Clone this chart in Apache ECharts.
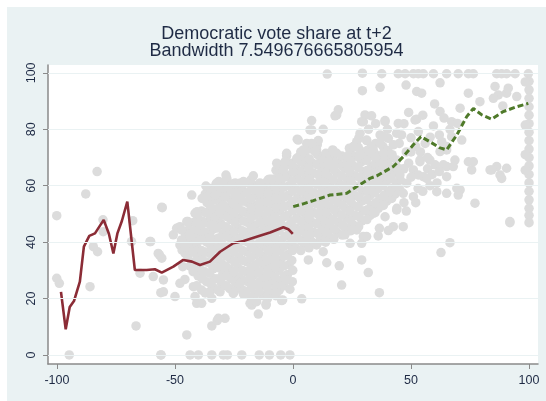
<!DOCTYPE html>
<html>
<head>
<meta charset="utf-8">
<script src="https://cdn.jsdelivr.net/npm/echarts@6/dist/echarts.min.js"></script>
<style>
  html, body { margin: 0; padding: 0; background: #fff; }
  #chart { position: absolute; left: 7px; top: 7px; width: 539px; height: 394px; }
</style>
</head>
<body>
<div id="chart"></div>
<script>
var titleLines = ['Democratic vote share at t+2', 'Bandwidth 7.549676665805954'];
var xTicks = [-100, -50, 0, 50, 100];
var yTicks = [0, 20, 40, 60, 80, 100];

// scatter: sparse points
var edgePts = [
  [-100.1,49.4],[-87.8,57.1],[-83,65],[-67.9,47.6],[-55.4,52.2],[-100.1,27.2],[-99,25.4],[-94.8,0],
  [-86,24.2],[-84.6,38.4],[-82.8,36.6],[-80.4,43.7],[-80.5,47.9],[-68.4,40.2],[-66.5,10.3],[-64.8,29],
  [-60.3,40.2],[-59.2,27.8],[-56.6,35.5],[-55.9,0],[-54.9,26.6],[-54.9,22.4],[-55.6,52.4],[-60.6,40.2],
  [-57.1,36],[-55.6,34.3],[-56,22.1],
  [-50,20.7],[-47.9,25.4],[-45,7.1],[-50.7,42.6],[-47.2,40.8],[-44.4,38.4],[-46.7,31.3],[-42.2,30.1],
  [-42.2,24.2],[-40.8,18.3],[-45.8,26.8],[-42.9,56.7],[-40.8,50.5],[-47.9,45.5],[-44.5,47.3],[-49.3,44.9],
  [-47.2,44.3],[-45,47.3],[-47.9,39],[-45.8,38.4],[-43.6,42],[-38.7,46.1],[-38.7,40.8],[-40.6,50.8],
  [-41.5,50.2],[-41.5,20.7],[-38.7,18.3],[-36.9,59.9],
  [-56,0],[-43.6,0],[-40.1,0],[-34.4,0],[-29.5,0],[-27.8,0],[-21.7,0],[-14.3,0],[-10,0],[-5.2,0],[-1.3,0],
  [-34.4,10.3],[-32.1,12.2],[-28.8,13],[-14.7,14.5],[-31.6,13],[3.7,19.9],[-1.3,23.3],[-4.4,19.5],
  [-17.5,17.7],[-11.4,17.7],[20.6,24.8],[6.5,33.7],[14.3,32.7],[19.6,31.6],[29.1,33.7],[31.9,29.2],
  [24.2,39.6],[36.6,22.1],[62.7,36.3],[66.5,39.8],[91.9,46.9],[46.7,45.5],[42.5,45.5],[40.4,44.1],
  [36.6,44.9],[36.1,42.2],[29.8,42],[29.1,39.6],[-34.4,20.1],[-30.9,22.4],[-25.3,21.8],[-21,21.6],
  [-18.2,18.3],[-15.4,18.9],[-11.4,18],[-4.8,19.3],[-6.9,22.1],[-17.8,26.6],[-22.5,25.4],[-11.1,24.8],
  [-2.7,26.6],[15.7,46.7],[22,42.6],[27,44.3],[31.2,42],[12.8,36.6],[10,39],[5.8,42.6],[3,44.3],
  [-32.6,60.6],[-29.8,61.2],[-25.6,60.6],[-21.7,59.9],[-28.4,63.8],[-16.8,63.5],[-10,62.3],[-6.2,67.4],
  [-2.7,70.6],[1.8,76.5],[7.9,83.1],[7.9,79.8],[12.8,80],[19.2,86.9],[18.5,85.1],[16.8,72.7],[10,72.7],
  [2.7,70.3],[5.8,75],[10.7,76],[23.9,73.3],[27,75.6],[28.4,78.6],[29.8,82.7],[30.5,85.1],[22.8,67.4],
  [17.1,68.5],[12.8,69.1],[18.5,71.5],[-33,56.7],[-28.8,56.1],[-23.9,56.1],[-6.2,62.6],[0.1,65],
  [-1.3,67.4],[-32.3,60.9],[-22.5,60.9],[-10.5,62.1],[-6.9,68],[-35.2,41.4],[-34.4,37.2],[-33,49],
  [-30.9,50.8],[-29.5,53.2],[-25.3,53.8],[-19.6,57.3],[-15.4,58.5],[-10.5,57.3],
  [17.8,84.8],[7.2,79.8],[33.3,84.8],[39,83.1],[29.1,82.7],[2.2,76.2],[7.9,75],[17.1,72.4],[-2.7,71.5],
  [-3.4,68.5],[-4.1,65.6],[-9,62.3],[1.6,69.7],[4.4,72.7],[9.3,72.1],[25.6,73.9],[31.2,76.2],[36.9,78],
  [40.4,76.8],[42.5,74.5],[43.9,69.1],[15,68.5],[22.8,70.3],[28.4,70.9],[34,72.7],[38.3,71.5],[41.1,66.8],
  [34,50.2],[39,49],[43.9,51.4],
  [14.5,99.6],[29.4,99.9],[37.6,99.7],[44.6,99.7],[47.5,99.7],[51,99.7],[53.1,99.7],[55.2,99.7],
  [59.5,99.7],[65.1,99.7],[70,99.7],[74.3,99.7],[76.4,99.7],[86.3,99.7],[88.4,99.7],[90.5,99.7],
  [94.1,99.7],[99.7,99.7],
  [29.4,93.7],[36.9,94.9],[47.9,95.7],[62.3,96.5],[85.6,95.2],[90.5,92.8],[91.2,94.6],[94.8,91.6],
  [52.4,93.4],[54.5,92.8],[74.3,92.8],[87,92.2],[79.2,89.8],[84.9,91],[88.9,88.3],[70.8,87.5],[62.3,86.3],
  [52.4,83.6],[44.6,82.1],[51.7,83.3],[39,82.7],[59.5,81.2],[66.5,80],[67.2,82.7],[69.7,82.1],[53.1,79.2],
  [58.1,77.2],[63,75.6],[65.1,72.7],[67.2,77.4],[71.5,76.2],[65.1,73.9],[62.3,72.1],[58,69.1],[53.8,68.5],
  [51,65.6],[45.3,63.8],[48.2,60.9],[55.2,63.2],[65.1,66.8],[68.6,69.1],[74.3,68.5],[75.7,65.6],[83.5,65.6],
  [86.3,66.8],[90.5,66.2],[87.7,63.8],[70.8,58.5],[60.9,57.9],[70,56.7],[41.1,57.9],[46.7,57.3],
  [76.4,68.5],[84.2,65.6],[77.1,53.8],[69.4,59.1],[65.1,57.3],[91.9,47.3],[51,56.1],[53.8,69.1],
  [63.7,67.4],[67.9,66.8],[53.1,63.8],[56.7,62.6],[60.2,67.4],[65.1,63.2],[88.4,62.6],[43.9,78.6],
  [38.3,77.4],[35,70],[46,78],[49,68],[50,72],[47,66],[44,52],[48,51],[52,54],[55,58],[57,66],[50,63],
  [32,80],[35,82],[37,75],[40,80],[42,71],[45,75],[47,82],[49,86],[50,77],[52,74],[54,72],[56,75],
  [57,70],[59,64],[61,61],[62,78],[55,85],[60,89],[64,84],[47,54],[53,59],[58,60],[62,65],[44,66],[48,72],
  [100,97],[100,94],[100,91],[100,88],[100,85],[100,82],[100,79],[100,76],[100,73],[100,70],[100,67],
  [100,64],[100,61],[100,58],[100,55],[100,52],[100,49.5],[100,46.9],[98.4,96.8],[98.4,81.5],[98.4,71],
  [98.4,65.5]
];

// scatter: the dense central cloud, read column by column
var cloudPts = [
  [-47,37.2],
  [-43.6,31.5],[-44.5,35],[-43.8,41],[-44.1,44.5],
  [-40.8,24.5],[-40.2,28],[-41,31.5],[-40.4,35],[-40.9,38.5],[-40.1,42],[-40.7,45.2],[-40.3,48.5],
  [-37.2,22],[-36.6,26],[-37.4,29.5],[-36.8,33],[-37.1,36.5],[-36.5,40],[-37.3,43.5],[-36.9,47],
  [-37,50.5],[-36.4,54],[-37.2,57],
  [-33.8,24],[-33.2,27],[-33.9,30.5],[-33.4,34],[-33.6,37.5],[-33.1,41],[-33.9,44.5],[-33.3,48],
  [-33.7,51.5],[-33.2,55],[-33.6,58],
  [-30.3,25.5],[-29.7,29],[-30.4,32.5],[-29.9,36],[-30.2,39.5],[-29.6,43],[-30.5,46.5],[-29.8,50],
  [-30.1,53.5],[-29.7,57],[-30.3,60],
  [-26.8,23.5],[-26.2,27],[-26.9,30.5],[-26.4,34],[-26.6,37.5],[-26.1,41],[-26.9,44.5],[-26.3,48],
  [-26.7,51.5],[-26.2,55],[-26.5,58.5],
  [-23.3,24],[-22.7,27.5],[-23.4,31],[-22.9,34.5],[-23.1,38],[-22.6,41.5],[-23.4,45],[-22.8,48.5],
  [-23.2,52],[-22.7,55.5],[-23,59],
  [-19.8,22.5],[-19.2,26],[-19.9,29.5],[-19.4,33],[-19.6,36.5],[-19.1,40],[-19.9,43.5],[-19.3,47],
  [-19.7,50.5],[-19.2,54],[-19.6,57.5],[-19.3,61],
  [-16.3,21.5],[-15.7,25],[-16.4,28.5],[-15.9,32],[-16.1,35.5],[-15.6,39],[-16.4,42.5],[-15.8,46],
  [-16.2,49.5],[-15.7,53],[-16,56.5],[-15.8,60],
  [-12.8,21],[-12.2,24.5],[-12.9,28],[-12.4,31.5],[-12.6,35],[-12.1,38.5],[-12.9,42],[-12.3,45.5],
  [-12.7,49],[-12.2,52.5],[-12.6,56],[-12.3,59.5],
  [-9.3,22],[-8.7,25.5],[-9.4,29],[-8.9,32.5],[-9.1,36],[-8.6,39.5],[-9.4,43],[-8.8,46.5],
  [-9.2,50],[-8.7,53.5],[-9.1,57],[-8.8,60.5],
  [-5.8,23],[-5.2,26.5],[-5.9,30],[-5.4,33.5],[-5.6,37],[-5.1,40.5],[-5.9,44],[-5.3,47.5],
  [-5.7,51],[-5.2,54.5],[-5.6,58],[-5.3,61.5],[-5.5,64.5],
  [-2.3,28.5],[-1.7,32],[-2.4,35.5],[-1.9,39],[-2.1,42.5],[-1.6,46],[-2.4,49.5],[-1.8,53],
  [-2.2,56.5],[-1.7,60],[-2,63.5],
  [1.2,38],[1.8,41.5],[1.1,45],[1.6,48.5],[1.4,52],[1.9,55.5],[1.1,59],[1.7,62.5],[1.3,66],
  [4.7,39.5],[5.3,43],[4.6,46.5],[5.1,50],[4.9,53.5],[5.4,57],[4.6,60.5],[5.2,64],[4.8,67.5],[5.1,70.5],
  [8.2,40],[8.8,43.5],[8.1,47],[8.6,50.5],[8.4,54],[8.9,57.5],[8.1,61],[8.7,64.5],[8.3,68],
  [11.7,41.5],[12.3,45],[11.6,48.5],[12.1,52],[11.9,55.5],[12.4,59],[11.6,62.5],[12.2,66],[11.8,69.5],
  [15.2,42],[15.8,45.5],[15.1,49],[15.6,52.5],[15.4,56],[15.9,59.5],[15.1,63],[15.7,66.5],[15.3,70],
  [18.7,43.5],[19.3,47],[18.6,50.5],[19.1,54],[18.9,57.5],[19.4,61],[18.6,64.5],[19.2,68],
  [22.2,45],[22.8,48.5],[22.1,52],[22.6,55.5],[22.4,59],[22.9,62.5],[22.1,66],[22.7,69.5],
  [25.7,46],[26.3,49.5],[25.6,53],[26.1,56.5],[25.9,60],[26.4,63.5],[25.6,67],[26.2,70.5],[25.8,74],
  [29.2,47.5],[29.8,51],[29.1,54.5],[29.6,58],[29.4,61.5],[29.9,65],[29.1,68.5],[29.7,72],
  [32.7,49.5],[33.3,53],[32.6,56.5],[33.1,60],[32.9,63.5],[33.4,67],[32.6,70.5],[33.2,74],
  [36.2,52],[36.8,55.5],[36.1,59],[36.6,62.5],[36.4,66],[36.9,69.5],
  [39.7,54.5],[40.3,58],[39.6,61.5],[40.1,65],[39.9,69],[40.2,72.5],
  [43.2,57],[43.8,61],[43.4,64.5]
];

// scatter: the cloud again, points lying between the columns above
var cloudFill = [
  [-45.7,36],[-45.3,39.5],[-45.6,43],
  [-42.3,29.5],[-41.8,33],[-42.2,36.5],[-41.9,40],[-42.4,43.5],[-42,47],
  [-38.7,23],[-38.4,27],[-38.9,30],[-38.5,34],[-38.8,37],[-38.6,41],[-38.9,44],[-38.4,47.5],[-38.7,51],[-38.5,55.5],
  [-35.2,22.5],[-35,25.5],[-35.4,29],[-35.1,32.5],[-35.3,36],[-34.9,39],[-35.4,42.5],[-35,46],
  [-35.3,49.5],[-35.1,53],[-35.2,56.5],[-34.9,59],
  [-31.8,23],[-31.6,27],[-32,31],[-31.7,34.5],[-31.9,38],[-31.5,41.5],[-32,45],[-31.6,48.5],
  [-31.9,52],[-31.7,55.5],[-31.8,59],[-31.5,61.5],
  [-28.3,24.5],[-28.1,28],[-28.5,31.5],[-28.2,35],[-28.4,38.5],[-28,42],[-28.5,45.5],[-28.1,49],
  [-28.4,52.5],[-28.2,56],[-28.3,59.5],[-28,62.5],
  [-24.8,22.5],[-24.6,26],[-25,29.5],[-24.7,33],[-24.9,36.5],[-24.5,40],[-25,43.5],[-24.6,47],
  [-24.9,50.5],[-24.7,54],[-24.8,57.5],[-24.5,61],
  [-21.3,23],[-21.1,26.5],[-21.5,30],[-21.2,33.5],[-21.4,37],[-21,40.5],[-21.5,44],[-21.1,47.5],
  [-21.4,51],[-21.2,54.5],[-21.3,58],[-21,61.5],
  [-17.8,20.5],[-17.6,24],[-18,27.5],[-17.7,31],[-17.9,34.5],[-17.5,38],[-18,41.5],[-17.6,45],
  [-17.9,48.5],[-17.7,52],[-17.8,55.5],[-17.5,59],[-17.9,62],
  [-14.3,22.5],[-14.1,26],[-14.5,29.5],[-14.2,33],[-14.4,36.5],[-14,40],[-14.5,43.5],[-14.1,47],
  [-14.4,50.5],[-14.2,54],[-14.3,57.5],[-14,61],
  [-10.8,20],[-10.6,23],[-11,26.5],[-10.7,30],[-10.9,33.5],[-10.5,37],[-11,40.5],[-10.6,44],
  [-10.9,47.5],[-10.7,51],[-10.8,54.5],[-10.5,58],[-10.9,61.5],
  [-7.3,21],[-7.1,24],[-7.5,27.5],[-7.2,31],[-7.4,34.5],[-7,38],[-7.5,41.5],[-7.1,45],
  [-7.4,48.5],[-7.2,52],[-7.3,55.5],[-7,59],[-7.4,62.5],[-7.2,65.5],
  [-3.8,24.5],[-3.6,28],[-4,31.5],[-3.7,35],[-3.9,38.5],[-3.5,42],[-4,45.5],[-3.6,49],
  [-3.9,52.5],[-3.7,56],[-3.8,59.5],[-3.5,63],[-3.9,66.5],
  [-0.3,26],[-0.1,30],[-0.5,33.5],[-0.2,37],[-0.4,40.5],[0,44],[-0.5,47.5],[-0.1,51],
  [-0.4,54.5],[-0.2,58],[-0.3,61.5],[0,65],[-0.4,68],
  [3.3,37],[3.5,40.5],[3.1,44],[3.4,47.5],[3.2,51],[3.6,54.5],[3.1,58],[3.5,61.5],[3.2,65],[3.4,68.5],[3.3,72],
  [6.8,38],[7,41.5],[6.6,45],[6.9,48.5],[6.7,52],[7.1,55.5],[6.6,59],[7,62.5],[6.7,66],[6.9,69.5],[6.8,73],
  [10.3,39.5],[10.5,43],[10.1,46.5],[10.4,50],[10.2,53.5],[10.6,57],[10.1,60.5],[10.5,64],[10.2,67.5],
  [10.4,71],[10.3,74.5],
  [13.8,40],[14,43.5],[13.6,47],[13.9,50.5],[13.7,54],[14.1,57.5],[13.6,61],[14,64.5],[13.7,68],[13.9,71.5],
  [17.3,41],[17.5,44.5],[17.1,48],[17.4,51.5],[17.2,55],[17.6,58.5],[17.1,62],[17.5,65.5],[17.2,69],
  [20.8,42.5],[21,46],[20.6,49.5],[20.9,53],[20.7,56.5],[21.1,60],[20.6,63.5],[21,67],[20.7,70.5],
  [24.3,44],[24.5,47.5],[24.1,51],[24.4,54.5],[24.2,58],[24.6,61.5],[24.1,65],[24.5,68.5],[24.2,72],
  [27.8,45.5],[28,49],[27.6,52.5],[27.9,56],[27.7,59.5],[28.1,63],[27.6,66.5],[28,70],[27.7,73.5],[27.9,77],
  [31.3,48],[31.5,51.5],[31.1,55],[31.4,58.5],[31.2,62],[31.6,65.5],[31.1,69],[31.5,72.5],[31.2,76],
  [34.8,50.5],[35,54],[34.6,57.5],[34.9,61],[34.7,64.5],[35.1,68],[34.6,71.5],[35,75],
  [38.3,53],[38.5,56.5],[38.1,60],[38.4,63.5],[38.2,67],[38.6,70.5],[38.1,74],
  [41.8,55.5],[42,59],[41.6,62.5],[41.9,66],[41.7,70],
  [45.3,58.5],[45.5,62],[45.1,66]
];

// local fits
var leftFit = [
  [-98.3,22.4],[-96.3,9.1],[-94.6,17],[-92.8,19.1],[-90.3,26],[-88.6,38.4],[-86.3,42.2],[-83.9,43.1],
  [-80.2,47.9],[-78,43],[-76.1,36],[-74.4,43.1],[-72.5,47.5],[-70.2,54.4],[-67,30.1],[-62,30.1],
  [-58.5,30.4],[-55.6,29.2],[-50.7,31.3],[-46.5,33.7],[-42.8,33.1],[-39.4,31.9],[-35.2,33.1],
  [-30.9,36.6],[-25.3,39.6],[-21,40.4],[-15.4,41.9],[-9.7,43.4],[-4.1,45.3],[-2,44.6],[-0.1,42.9]
];
var rightFit = [
  [0.1,52.6],[4,53.5],[8.6,54.7],[15.7,56.7],[22.8,57.3],[27,59.7],[32.6,62.6],[35.5,63.5],
  [42.5,66.8],[46.7,70.3],[51,74.5],[54.2,77.4],[58,75.6],[62,73.5],[65.1,72.7],[69.4,78],
  [73.6,84.5],[76.4,87.4],[80,85.1],[84.2,83.6],[89.1,86.3],[94.8,88],[99.7,89.2]
];

var txt = '#1f2b45';
var axisCol = '#8a8a8a';

var myChart = echarts.init(document.getElementById('chart'));
var option = {
  animation: false,
  backgroundColor: '#eaf2f3',
  title: {
    text: titleLines.join('\n'),
    left: 'center',
    top: 14,
    padding: [5, 0, 5, 8],
    textStyle: {
      fontFamily: 'Liberation Sans, Arial, sans-serif',
      fontSize: 18,
      fontWeight: 'normal',
      lineHeight: 17,
      color: txt
    }
  },
  grid: {
    left: 41,
    right: 8,
    top: 58,
    bottom: 37,
    show: true,
    backgroundColor: '#ffffff',
    borderWidth: 0
  },
  xAxis: {
    type: 'value',
    min: -103.8,
    max: 103.8,
    axisLine: { show: true, onZero: false, lineStyle: { color: axisCol, width: 1.5 } },
    axisTick: { show: true, length: 5, customValues: xTicks, lineStyle: { color: axisCol, width: 1 } },
    axisLabel: {
      customValues: xTicks,
      margin: 10,
      fontFamily: 'Liberation Sans, Arial, sans-serif',
      fontSize: 12.5,
      color: txt
    },
    splitLine: { show: false }
  },
  yAxis: {
    type: 'value',
    min: -3.2,
    max: 102.8,
    axisLine: { show: true, onZero: false, lineStyle: { color: axisCol, width: 1.5 } },
    axisTick: { show: true, length: 5, customValues: yTicks, lineStyle: { color: axisCol, width: 1 } },
    axisLabel: {
      customValues: yTicks,
      rotate: 90,
      margin: 10,
      fontFamily: 'Liberation Sans, Arial, sans-serif',
      fontSize: 12.5,
      color: txt
    },
    splitLine: { show: false }
  },
  series: [
    {
      name: 'grid',
      type: 'line',
      data: [],
      silent: true,
      markLine: {
        silent: true,
        symbol: 'none',
        label: { show: false },
        lineStyle: { color: '#eaf2f3', width: 1.2, type: 'solid' },
        data: yTicks.map(function (v) { return { yAxis: v }; })
      },
      z: 1
    },
    {
      name: 'obs',
      type: 'scatter',
      data: cloudPts.concat(cloudFill, edgePts),
      symbol: 'circle',
      symbolSize: 9.5,
      itemStyle: { color: '#dcdcdc', opacity: 1 },
      silent: true,
      z: 2
    },
    {
      name: 'left',
      type: 'line',
      data: leftFit,
      showSymbol: false,
      lineStyle: { color: '#8b2c36', width: 2.6 },
      z: 3
    },
    {
      name: 'right',
      type: 'line',
      data: rightFit,
      showSymbol: false,
      lineStyle: { color: '#4f7a2a', width: 3, type: [6, 3] },
      z: 3
    }
  ]
};
myChart.setOption(option);
window.addEventListener('resize', function () { myChart.resize(); });
</script>
</body>
</html>
